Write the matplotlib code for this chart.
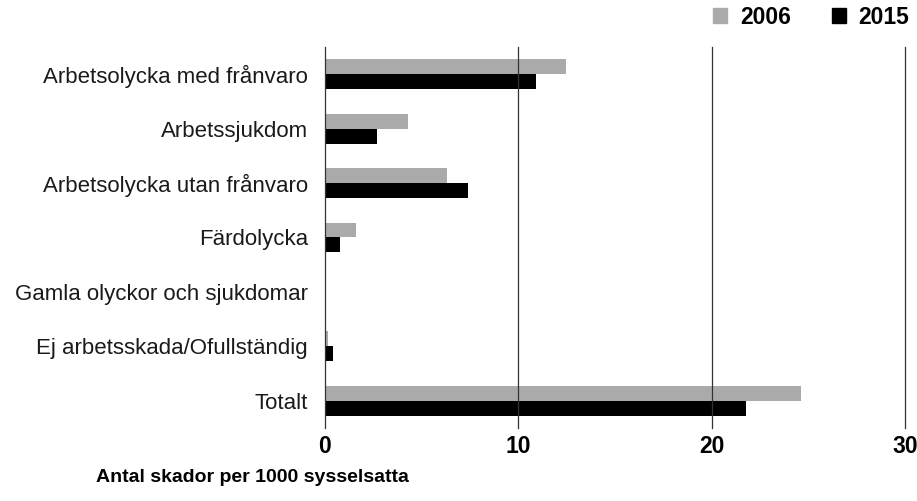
import numpy as np
import matplotlib.pyplot as plt
from matplotlib.patches import Patch

# data
categories = ['Arbetsolycka med frånvaro', 'Arbetssjukdom', 'Arbetsolycka utan frånvaro',
              'Färdolycka', 'Gamla olyckor och sjukdomar', 'Ej arbetsskada/Ofullständig', 'Totalt']
v2006 = [12.5, 4.3, 6.3, 1.6, 0.0, 0.2, 24.6]
v2015 = [10.9, 2.7, 7.4, 0.8, 0.0, 0.45, 21.8]
years = ['2006', '2015']
colors = ['#aaaaaa', '#000000']
xticks = [0, 10, 20, 30]

plt.rcParams['font.family'] = ['Liberation Sans', 'DejaVu Sans']

fig = plt.figure(figsize=(9.17, 5.01), dpi=100)
ax = fig.add_axes([0.354, 0.146, 0.633, 0.76])

y = np.arange(len(categories))
h = 0.275
ax.barh(y - h/2, v2006, height=h, color=colors[0], zorder=1)
ax.barh(y + h/2, v2015, height=h, color=colors[1], zorder=1)

ax.set_ylim(len(categories) - 0.5, -0.5)
ax.set_xlim(0, 30)
ax.set_yticks(y)
ax.set_yticklabels(categories, fontsize=16, color='#1a1a1a')
ax.set_xticks(xticks)
ax.set_xticklabels([str(t) for t in xticks], fontsize=16.5, fontweight='bold')
ax.tick_params(axis='y', length=0, pad=12)
ax.tick_params(axis='x', length=0, pad=5)

for sp in ax.spines.values():
    sp.set_visible(False)
for t in xticks:
    ax.axvline(t, color='#333333', lw=0.9, zorder=2, clip_on=False)

fig.text(252/917, 1 - 477/501, 'Antal skador per 1000 sysselsatta', fontsize=14,
         fontweight='bold', ha='center', va='center')

handles = [Patch(color=c, label=l) for c, l in zip(colors, years)]
leg = fig.legend(handles=handles, ncol=2, loc='center right',
                 bbox_to_anchor=(909/917, 1 - 17/501), borderpad=0, borderaxespad=0,
                 frameon=False, handlelength=0.6, handleheight=0.6, handletextpad=0.55,
                 columnspacing=1.8, prop={'weight': 'bold', 'size': 16.5})

fig.savefig('out.png', dpi=100)
